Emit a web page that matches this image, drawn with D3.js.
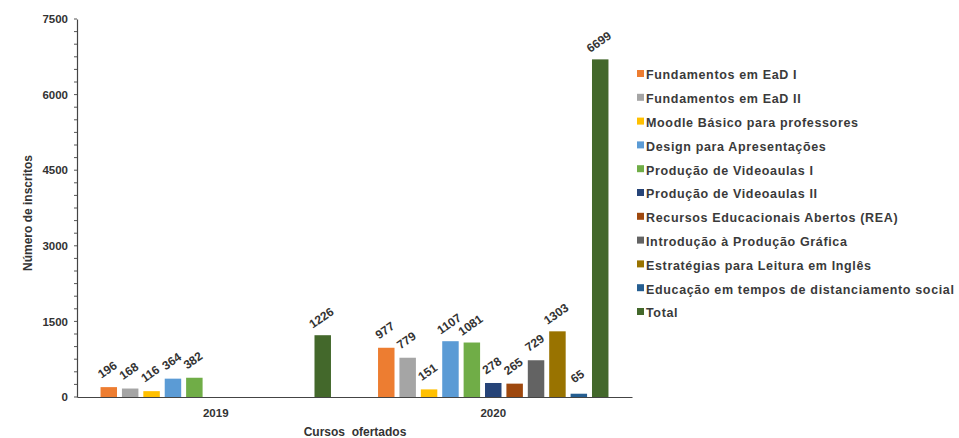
<!DOCTYPE html>
<html>
<head>
<meta charset="utf-8">
<script src="https://cdn.jsdelivr.net/npm/d3@7"></script>
<style>
body{margin:0;background:#fff;}
text{font-family:"Liberation Sans",Arial,sans-serif;}
</style>
</head>
<body>
<svg id="chart" width="959" height="438"></svg>
<script>
const categories = ["2019", "2020"];
const seriesNames = [
  "Fundamentos em EaD I",
  "Fundamentos em EaD II",
  "Moodle Básico para professores",
  "Design para Apresentações",
  "Produção de Videoaulas I",
  "Produção de Videoaulas II",
  "Recursos Educacionais Abertos (REA)",
  "Introdução à Produção Gráfica",
  "Estratégias para Leitura em Inglês",
  "Educação em tempos de distanciamento social",
  "Total"
];
const values2019 = [196, 168, 116, 364, 382, 0, 0, 0, 0, 0, 1226];
const values2020 = [977, 779, 151, 1107, 1081, 278, 265, 729, 1303, 65, 6699];
const seriesColors = ["#ED7D31", "#A5A5A5", "#FFC000", "#5B9BD5", "#70AD47", "#264478", "#9E480E", "#636363", "#997300", "#255E91", "#43682B"];
const yTicks = [0, 1500, 3000, 4500, 6000, 7500];

const valuesByCat = {"2019": values2019, "2020": values2020};
const svg = d3.select("#chart");
const mLeft = 77, mRight = 632, mTop = 19, mBottom = 397;

const y = d3.scaleLinear().domain([0, 7500]).range([mBottom, mTop]);
const x0 = d3.scaleBand().domain(categories).range([mLeft, mRight]).padding(0);
const x1 = d3.scaleBand().domain(seriesNames).range([0, x0.bandwidth()]).paddingInner(0.23).paddingOuter(1.1);

const textColor = "#333";

// y axis
const yAxis = svg.append("g").attr("transform", `translate(${mLeft},0)`)
  .call(d3.axisLeft(y).tickValues(yTicks).tickFormat(d3.format("d")).tickSize(0).tickPadding(9));
yAxis.select(".domain").attr("stroke", "#444").attr("stroke-width", 1.2);
yAxis.selectAll("text").attr("font-size", 11.5).attr("font-weight", "bold").attr("fill", textColor);
// minor ticks
svg.append("g").selectAll("line").data(d3.range(0, 7501, 250)).join("line")
  .attr("x1", mLeft - 3).attr("x2", mLeft).attr("y1", d => y(d)).attr("y2", d => y(d))
  .attr("stroke", "#555").attr("stroke-width", 1);

// bars
const groups = svg.append("g").selectAll("g").data(categories).join("g")
  .attr("transform", d => `translate(${x0(d)},0)`);
groups.selectAll("rect").data(c => valuesByCat[c].map((v, i) => ({v, i})).filter(d => d.v > 0)).join("rect")
  .attr("x", d => x1(seriesNames[d.i]))
  .attr("width", x1.bandwidth())
  .attr("y", d => y(d.v))
  .attr("height", d => y(0) - y(d.v))
  .attr("fill", d => seriesColors[d.i]);
groups.selectAll("text").data(c => valuesByCat[c].map((v, i) => ({v, i})).filter(d => d.v > 0)).join("text")
  .attr("transform", d => `translate(${x1(seriesNames[d.i]) + x1.bandwidth() / 2 + 1},${y(d.v) - 14}) rotate(-35)`)
  .attr("text-anchor", "middle")
  .attr("font-size", 12).attr("font-weight", "bold").attr("fill", textColor)
  .text(d => d.v);

// x axis
const xAxis = svg.append("g").attr("transform", `translate(0,${mBottom})`)
  .call(d3.axisBottom(x0).tickSize(0).tickPadding(12));
xAxis.select(".domain").attr("stroke", "#444").attr("stroke-width", 1.2);
xAxis.selectAll("text").attr("font-size", 11.5).attr("font-weight", "bold").attr("fill", textColor);

// axis titles
svg.append("text").attr("transform", `translate(32,${(mTop + mBottom) / 2 + 5}) rotate(-90)`)
  .attr("text-anchor", "middle").attr("font-size", 12).attr("font-weight", "bold").attr("fill", textColor)
  .text("Número de inscritos");
svg.append("text").attr("x", 355).attr("y", 436)
  .attr("text-anchor", "middle").attr("font-size", 12).attr("font-weight", "bold").attr("fill", textColor)
  .attr("xml:space", "preserve")
  .text("Cursos  ofertados");

// legend
const legend = svg.append("g").attr("transform", "translate(637,75)");
const items = legend.selectAll("g").data(seriesNames).join("g")
  .attr("transform", (d, i) => `translate(0,${i * 23.8})`);
items.append("rect").attr("x", 0).attr("y", -5).attr("width", 7).attr("height", 7)
  .attr("fill", (d, i) => seriesColors[i]);
items.append("text").attr("x", 9).attr("y", 0).attr("dy", "0.35em")
  .attr("font-size", 12.5).attr("font-weight", "bold").attr("fill", "#3a3a3a")
  .attr("letter-spacing", "0.65px")
  .text(d => d);
</script>
</body>
</html>
